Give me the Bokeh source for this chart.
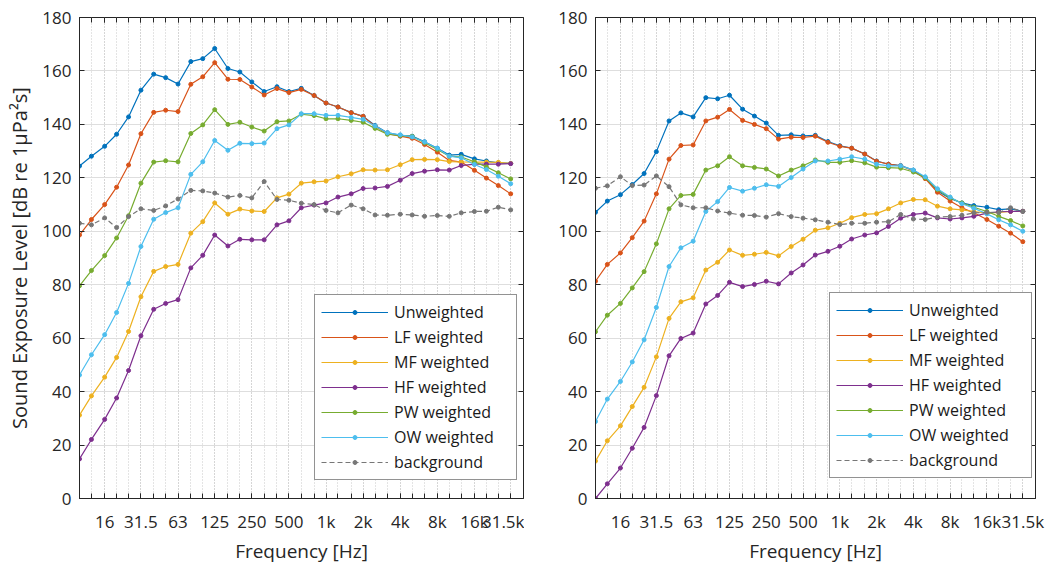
from bokeh.plotting import figure
from bokeh.models import (Range1d, FixedTicker, CustomJSTickFormatter, LinearAxis, LogAxis,
                          Legend, LegendItem)
from bokeh.layouts import row
from bokeh.embed import file_html
from bokeh.resources import INLINE

# ---------------- data ----------------
freqs = [10, 12.5, 16, 20, 25, 31.5, 40, 50, 63, 80, 100, 125, 160, 200, 250, 315, 400, 500,
         630, 800, 1000, 1250, 1600, 2000, 2500, 3150, 4000, 5000, 6300, 8000, 10000, 12500,
         16000, 20000, 25000, 31500]
tick_freqs = [16, 31.5, 63, 125, 250, 500, 1000, 2000, 4000, 8000, 16000, 31500]
tick_labels = ["16", "31.5", "63", "125", "250", "500", "1k", "2k", "4k", "8k", "16k", "31.5k"]
y_ticks = [0, 20, 40, 60, 80, 100, 120, 140, 160, 180]

series_names = ["Unweighted", "LF weighted", "MF weighted", "HF weighted", "PW weighted",
                "OW weighted", "background"]
series_colors = ["#0072BD", "#D95319", "#EDB120", "#7E2F8E", "#77AC30", "#4DBEEE", "#777777"]

left_unweighted = [124.4, 128.1, 131.8, 136.3, 142.8, 152.8, 158.8, 157.5, 155.1, 163.5, 164.6, 168.4,
                   160.9, 159.6, 155.9, 152.3, 154.1, 152.3, 153.5, 150.8, 148.0, 146.5, 144.4, 143.0,
                   139.6, 136.9, 135.9, 135.6, 133.5, 131.1, 128.5, 128.8, 127.1, 126.3, 125.6, 125.4]
left_lf = [98.6, 104.4, 110.0, 116.5, 124.8, 136.5, 144.5, 145.3, 144.8, 155.0, 157.8, 163.1,
           156.9, 156.8, 154.0, 151.0, 153.4, 151.9, 153.1, 150.8, 148.0, 146.5, 144.4, 143.0,
           139.3, 136.5, 135.6, 134.8, 132.5, 129.6, 126.5, 125.9, 122.8, 119.9, 117.1, 114.0]
left_mf = [31.2, 38.4, 45.4, 52.8, 62.5, 75.5, 85.0, 86.8, 87.6, 99.3, 103.6, 110.6,
           106.4, 108.3, 107.6, 107.4, 112.5, 113.9, 118.0, 118.5, 118.8, 120.4, 121.5, 123.0,
           122.9, 123.0, 124.9, 126.8, 126.9, 126.8, 126.1, 126.0, 125.9, 125.9, 125.8, 125.4]
left_hf = [14.8, 22.1, 29.6, 37.6, 47.9, 60.9, 70.8, 73.0, 74.4, 86.3, 91.0, 98.6,
           94.5, 97.0, 96.8, 96.8, 102.4, 103.9, 108.8, 109.8, 110.6, 112.8, 114.0, 116.0,
           116.2, 116.8, 119.1, 121.6, 122.5, 123.0, 122.9, 124.6, 125.1, 125.1, 125.1, 125.3]
left_pw = [79.6, 85.3, 90.9, 97.5, 105.8, 118.0, 125.9, 126.4, 126.0, 136.6, 139.8, 145.5,
           140.0, 140.8, 139.0, 137.5, 141.0, 141.3, 143.8, 143.3, 142.1, 142.1, 141.5, 140.8,
           138.5, 136.3, 135.8, 135.5, 133.1, 130.6, 128.1, 127.8, 126.0, 124.1, 121.9, 119.6]
left_ow = [46.2, 53.8, 61.3, 69.6, 80.5, 94.3, 104.5, 107.0, 108.8, 121.3, 126.0, 134.0,
           130.3, 132.9, 132.8, 133.0, 138.4, 139.8, 144.0, 144.0, 143.4, 143.4, 142.6, 141.9,
           139.4, 136.8, 136.1, 135.3, 133.4, 131.1, 128.1, 127.5, 125.0, 123.1, 120.6, 117.8]
left_bg = [103.0, 102.4, 105.0, 101.4, 105.5, 108.4, 107.8, 109.5, 112.1, 115.3, 115.1, 114.3,
           112.8, 113.4, 112.5, 118.6, 111.9, 111.6, 110.5, 110.0, 107.8, 106.9, 109.8, 108.4,
           106.1, 106.0, 106.4, 106.1, 105.6, 105.9, 105.6, 106.9, 107.4, 107.5, 109.0, 108.0]

right_unweighted = [107.1, 111.3, 113.7, 117.5, 121.6, 129.8, 141.3, 144.3, 142.8, 150.0, 149.6, 150.9,
                    145.7, 143.1, 140.5, 135.9, 136.1, 135.7, 135.9, 133.6, 132.0, 131.1, 128.9, 126.3,
                    125.1, 124.6, 122.9, 120.0, 115.1, 112.3, 110.6, 109.6, 109.0, 108.1, 108.4, 107.5]
right_lf = [81.3, 87.6, 91.9, 97.6, 103.8, 114.0, 127.0, 132.1, 132.3, 141.3, 142.7, 145.6,
            141.5, 140.0, 138.4, 134.5, 135.2, 135.1, 135.6, 133.3, 131.8, 131.1, 128.9, 126.2,
            125.1, 124.5, 122.6, 119.7, 114.6, 111.3, 108.8, 106.9, 104.4, 101.9, 99.3, 96.1]
right_mf = [14.0, 21.6, 27.2, 34.4, 41.6, 53.0, 67.4, 73.6, 75.1, 85.5, 88.4, 93.0,
            91.0, 91.4, 92.1, 90.8, 94.3, 97.0, 100.4, 101.3, 103.0, 105.1, 106.3, 106.6,
            108.4, 110.6, 111.9, 111.8, 109.4, 108.4, 108.0, 107.4, 106.8, 107.1, 107.4, 107.5]
right_hf = [0.0, 5.5, 11.4, 18.8, 26.6, 38.5, 53.4, 59.9, 61.9, 72.8, 76.0, 80.9,
            79.3, 80.1, 81.3, 80.3, 84.4, 87.4, 91.1, 92.5, 94.4, 97.1, 98.6, 99.4,
            101.8, 104.9, 106.3, 106.8, 105.0, 104.6, 105.0, 105.6, 106.8, 107.3, 107.4, 107.5]
right_pw = [62.4, 68.6, 73.0, 78.8, 84.9, 95.3, 108.4, 113.4, 113.8, 122.9, 124.5, 127.9,
            124.5, 123.9, 123.3, 120.7, 122.9, 124.5, 126.7, 125.8, 125.8, 126.4, 125.6, 124.0,
            123.8, 123.6, 122.2, 120.0, 115.6, 112.5, 110.6, 109.0, 107.4, 105.6, 104.0, 102.0]
right_ow = [28.8, 37.2, 43.8, 51.1, 59.4, 71.5, 86.8, 93.8, 96.3, 107.4, 111.1, 116.4,
            115.0, 116.1, 117.4, 116.8, 120.1, 123.3, 126.3, 126.3, 127.0, 127.9, 127.0, 125.1,
            124.5, 124.5, 122.9, 120.4, 115.9, 112.8, 110.3, 108.6, 106.5, 104.3, 102.4, 100.0]
right_bg = [116.1, 117.0, 120.4, 117.1, 117.3, 120.7, 116.7, 109.9, 108.8, 108.8, 107.6, 106.8,
            106.0, 105.9, 105.3, 106.6, 105.5, 104.9, 104.3, 103.4, 102.5, 103.0, 103.0, 103.4,
            103.6, 106.3, 104.6, 104.4, 105.3, 105.5, 106.0, 106.9, 107.1, 107.0, 108.8, 107.4]

left_series = [left_unweighted, left_lf, left_mf, left_hf, left_pw, left_ow, left_bg]
right_series = [right_unweighted, right_lf, right_mf, right_hf, right_pw, right_ow, right_bg]

FONT = "Open Sans"
DARK = "#262626"


def x_formatter():
    return CustomJSTickFormatter(args=dict(vals=tick_freqs, labels=tick_labels), code="""
        for (let i = 0; i < vals.length; i++) {
            if (Math.abs(vals[i] - tick) < 1e-6 * vals[i]) { return labels[i]; }
        }
        return "";
    """)


def blank_formatter():
    return CustomJSTickFormatter(code='return "";')


def style_axis(ax, labels=True):
    ax.axis_line_color = DARK
    ax.major_tick_line_color = DARK
    ax.minor_tick_line_color = DARK
    ax.major_tick_in = 5
    ax.major_tick_out = 0
    ax.minor_tick_in = 5
    ax.minor_tick_out = 0
    ax.major_label_text_font = FONT
    ax.major_label_text_color = DARK
    ax.major_label_text_font_size = "17px"
    ax.axis_label_text_font = FONT
    ax.axis_label_text_font_style = "normal"
    ax.axis_label_text_color = DARK
    ax.axis_label_text_font_size = "19px"
    if not labels:
        ax.formatter = blank_formatter()
        ax.major_label_standoff = 0
        ax.axis_line_color = None


def make_panel(series, left_border, right_border, frame_w, ylabel, legend_loc):
    p = figure(x_axis_type="log", x_range=Range1d(10, 40000), y_range=Range1d(0, 180),
               frame_width=frame_w, frame_height=481,
               min_border_left=left_border, min_border_right=right_border,
               min_border_top=17, min_border_bottom=67,
               output_backend="svg", toolbar_location=None,
               background_fill_color="white", border_fill_color="white",
               outline_line_color=DARK, outline_line_width=1)

    # bottom axis
    xa = p.xaxis[0]
    xa.ticker = FixedTicker(ticks=tick_freqs, minor_ticks=freqs)
    xa.formatter = x_formatter()
    style_axis(xa)
    xa.major_label_standoff = 11
    xa.axis_label = "Frequency [Hz]"
    xa.axis_label_standoff = 2

    ya = p.yaxis[0]
    ya.ticker = FixedTicker(ticks=y_ticks)
    style_axis(ya)
    ya.major_label_standoff = 8
    if ylabel:
        ya.axis_label = ylabel
        ya.axis_label_text_font_size = "20px"
        ya.axis_label_standoff = 6

    # box ticks on top and right
    top = LogAxis(ticker=FixedTicker(ticks=tick_freqs, minor_ticks=freqs))
    style_axis(top, labels=False)
    p.add_layout(top, "above")
    rgt = LinearAxis(ticker=FixedTicker(ticks=y_ticks))
    style_axis(rgt, labels=False)
    p.add_layout(rgt, "right")

    # grids
    p.xgrid.ticker = FixedTicker(ticks=tick_freqs, minor_ticks=freqs)
    p.xgrid.grid_line_color = "#c8c8c8"
    p.xgrid.grid_line_dash = "1 2"
    p.xgrid.grid_line_width = 1
    p.xgrid.minor_grid_line_color = "#c8c8c8"
    p.xgrid.minor_grid_line_dash = "1 2"
    p.ygrid.grid_line_color = "#dedede"
    p.ygrid.grid_line_width = 1

    items = []
    for name, color, vals in zip(series_names, series_colors, series):
        dash = "5 3" if name == "background" else "solid"
        lr = p.line(freqs, vals, line_color=color, line_width=1.2, line_dash=dash)
        sr = p.scatter(freqs, vals, size=4, fill_color=color, line_color=color, marker="circle")
        items.append(LegendItem(label=name, renderers=[lr, sr]))

    legend = Legend(items=items, location=legend_loc,
                    label_text_font=FONT, label_text_font_size="16px", label_text_color="#1a1a1a",
                    glyph_width=67, glyph_height=10, label_height=18, label_width=116,
                    label_standoff=6, spacing=3, padding=6, margin=0,
                    border_line_color=DARK, border_line_width=1,
                    background_fill_color="white", background_fill_alpha=1.0)
    p.add_layout(legend)
    return p


p1 = make_panel(left_series, 79, 1, 444, "Sound Exposure Level [dB re 1\u03bcPa\u00b2s]", (235, 18))
p2 = make_panel(right_series, 71, 13, 440, None, (234, 20))

layout = row(p1, p2)
open("out.html", "w").write(file_html(layout, INLINE))
